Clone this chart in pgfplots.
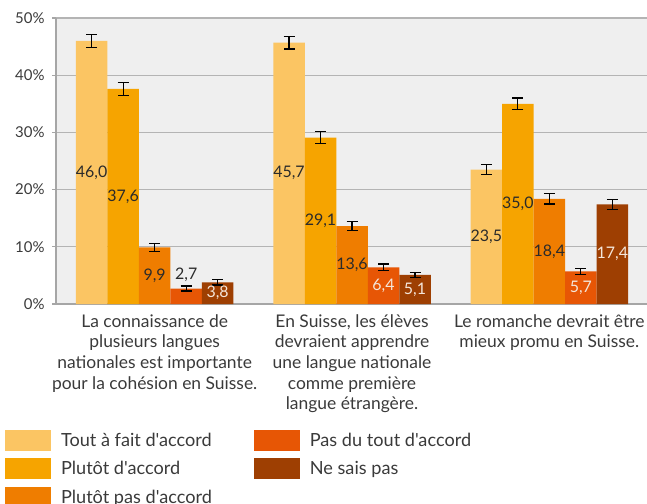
\documentclass[border=0pt]{standalone}
\usepackage{pgfplots}
\usepackage{pgfplotstable}
\pgfplotsset{compat=1.18}
\usepackage{fontspec}
\setmainfont{Lato}[Ligatures=TeXOff]
\definecolor{c1}{HTML}{FBC563}
\definecolor{c2}{HTML}{F6A400}
\definecolor{c3}{HTML}{EF7D00}
\definecolor{c4}{HTML}{E75605}
\definecolor{c5}{HTML}{9E3F02}
\definecolor{bg}{HTML}{EFEFEF}
\definecolor{gridc}{HTML}{B4B4B4}
\definecolor{axc}{HTML}{A6A6A6}
\definecolor{txt}{HTML}{3A3A3A}
\definecolor{lab}{HTML}{2A2A2A}
\definecolor{labw}{HTML}{F4E6DA}

\pgfplotstableread{
x y e lab
0 46.0 1.1 46,0
1 45.7 1.1 45,7
2 23.5 0.9 23,5
}\dA
\pgfplotstableread{
x y e lab
0 37.6 1.1 37,6
1 29.1 1.0 29,1
2 35.0 1.0 35,0
}\dB
\pgfplotstableread{
x y e lab
0 9.9 0.7 9,9
1 13.6 0.8 13,6
2 18.4 0.9 18,4
}\dC
\pgfplotstableread{
x y e lab
0 2.7 0.45 {}
1 6.4 0.6 6,4
2 5.7 0.5 5,7
}\dD
\pgfplotstableread{
x y e lab
0 3.8 0.5 3,8
1 5.1 0.45 5,1
2 17.4 0.9 17,4
}\dE

\begin{document}
\begin{tikzpicture}
\begin{axis}[
  width=592bp, height=286bp, scale only axis,
  xmin=-0.5, xmax=2.5, ymin=0, ymax=50,
  ybar=0pt, bar width=31.5bp,
  axis x line*=bottom, axis y line*=left,
  axis line style={-, axc, line width=1.6bp},
  axis background/.style={fill=bg},
  ymajorgrids, grid style={gridc, line width=1.2bp},
  ytick={0,10,20,30,40,50},
  yticklabel={\pgfmathprintnumber{\tick}\%},
  /pgf/number format/assume math mode=true,
  tick align=outside, major tick length=4bp,
  ytick style={axc, line width=1.2bp},
  xtick={0,1,2}, xtick style={draw=none},
  xticklabels={{La connaissance de\\plusieurs langues\\nationales est importante\\pour la cohésion en Suisse.},{En Suisse, les élèves\\devraient apprendre\\une langue nationale\\comme première\\langue étrangère.},{Le romanche devrait être\\mieux promu en Suisse.}},
  xticklabel style={align=center, font=\fontsize{17.5}{20.7}\selectfont, text=txt, anchor=north, yshift=-3bp},
  yticklabel style={font=\fontsize{15}{18}\selectfont, text=txt, xshift=-4bp},
  visualization depends on={y \as \rawy},
  point meta=explicit symbolic,
  nodes near coords,
  every node near coord/.append style={anchor=center, yshift={-2.86bp*\rawy}, font=\fontsize{16}{18}\selectfont, text=lab},
  error bars/y dir=both, error bars/y explicit,
  error bars/error bar style={black, line width=1.3bp},
  error bars/error mark options={black, rotate=90, mark size=5.5bp, line width=1.3bp},
  legend image code/.code={\fill (0bp,-10.5bp) rectangle (46bp,10.5bp);},
  legend columns=2,
  legend style={draw=none, fill=none, at={(axis description cs:-0.0915,-0.432)}, anchor=north west,
    font=\fontsize{18.2}{20}\selectfont, text=txt, row sep=7.5bp,
    /tikz/every odd column/.append style={column sep=8bp},
    /tikz/every even column/.append style={column sep=40bp}},
  legend cell align=left,
]
\addplot[fill=c1, draw=none, forget plot, bar shift=-63bp] table[x=x, y=y, y error=e, meta=lab] {\dA};
\addplot[fill=c2, draw=none, forget plot, bar shift=-31.5bp] table[x=x, y=y, y error=e, meta=lab] {\dB};
\addplot[fill=c3, draw=none, forget plot, bar shift=0bp] table[x=x, y=y, y error=e, meta=lab] {\dC};
\addplot[fill=c4, draw=none, forget plot, bar shift=31.5bp, every node near coord/.append style={text=labw}] table[x=x, y=y, y error=e, meta=lab] {\dD};
\addplot[fill=c5, draw=none, forget plot, bar shift=63bp, every node near coord/.append style={text=labw}] table[x=x, y=y, y error=e, meta=lab] {\dE};
\node[font=\fontsize{16}{18}\selectfont, text=lab] at (axis cs:0.16,5.1) {2,7};
\addlegendimage{fill=c1, draw=none}\addlegendentry{Tout à fait d'accord}
\addlegendimage{fill=c4, draw=none}\addlegendentry{Pas du tout d'accord}
\addlegendimage{fill=c2, draw=none}\addlegendentry{Plutôt d'accord}
\addlegendimage{fill=c5, draw=none}\addlegendentry{Ne sais pas}
\addlegendimage{fill=c3, draw=none}\addlegendentry{Plutôt pas d'accord}
\end{axis}
\pgfresetboundingbox
\path ([shift={(-56bp,-200bp)}]current axis.south west) rectangle ([shift={(591bp,304bp)}]current axis.south west);
\end{tikzpicture}
\end{document}
